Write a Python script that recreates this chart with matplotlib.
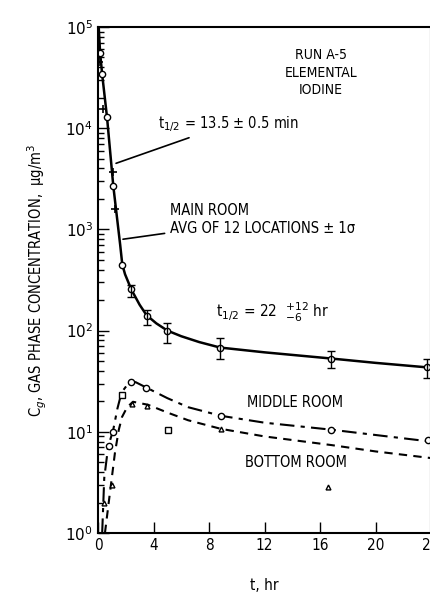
import matplotlib
matplotlib.use("Agg")
import matplotlib.pyplot as plt

# main room, averaged points (t in hr, C in ug/m3)
main_t = [0.15, 0.3, 0.65, 1.1, 1.75, 2.4, 3.5, 5.0, 8.8, 16.8, 23.7]
main_c = [56000, 34000, 12800, 2700, 450, 260, 140, 100, 68, 53, 44]
# "+" marks on the steep part
plus_t = [0.1, 0.35, 1.05, 1.2]
plus_c = [45000, 15500, 3700, 1600]
# error bars (+/- 1 sigma)
err_t = [2.4, 3.5, 5.0, 8.8, 16.8, 23.7]
err_c = [260, 140, 100, 68, 53, 44]
err_lo = [217, 114, 76, 52, 43, 34]
err_hi = [285, 160, 118, 85, 63, 53]
# drawn curve, main room
main_line_t = [0.05, 0.15, 0.3, 0.65, 1.1, 1.6, 1.75, 1.95, 2.4, 3.0, 3.5, 4.2, 5.0, 6.0, 7.3, 8.8, 12.0, 16.8, 20.0, 24.0]
main_line_c = [100000, 56000, 34000, 12800, 2700, 700, 450, 360, 255, 180, 142, 118, 100, 88, 77, 68, 61, 53, 48, 43]

# middle room
mid_t = [0.8, 1.1, 2.4, 3.45, 8.85, 16.8, 23.8]
mid_c = [7.2, 10, 31, 27, 14.4, 10.5, 8.3]
mid_sq_t = [1.7, 5.05]
mid_sq_c = [23, 10.5]
mid_line_t = [0.3, 0.45, 0.73, 1.1, 1.4, 1.7, 2.1, 2.7, 3.45, 5.0, 6.5, 8.85, 12.0, 16.8, 20.0, 24.0]
mid_line_c = [1.0, 3.5, 7.1, 10.5, 17, 24.5, 29, 31, 27.5, 21.5, 17.5, 14.4, 12.3, 10.5, 9.3, 8.0]

# bottom room
bot_t = [0.4, 1.0, 2.45, 3.55, 8.85, 16.6]
bot_c = [2.0, 3.0, 19, 18, 10.7, 2.85]
bot_line_t = [0.5, 0.86, 1.22, 1.5, 1.73, 2.1, 2.52, 3.6, 5.0, 6.5, 8.85, 12.0, 16.8, 20.0, 24.0]
bot_line_c = [1.0, 2.5, 6.2, 10.5, 14, 17.5, 19.8, 18.5, 15.5, 13, 10.7, 9.0, 7.4, 6.4, 5.5]

x_ticks = [0, 4, 8, 12, 16, 20, 24]

fnt = dict(family="DejaVu Sans", stretch="condensed")

fig = plt.figure(figsize=(4.31, 5.94), dpi=100)
ax = fig.add_axes([0.2274, 0.1027, 0.7726, 0.8518])

ax.plot(main_line_t, main_line_c, color="black", lw=1.8)
ax.plot(mid_line_t, mid_line_c, color="black", lw=1.5, dashes=[7, 3, 2, 3])
ax.plot(bot_line_t, bot_line_c, color="black", lw=1.5, dashes=[4, 3])

ax.plot(main_t, main_c, "o", mfc="white", mec="black", ms=4.5, mew=1)
ax.plot(plus_t, plus_c, "+", color="black", ms=6, mew=1.2)
ax.errorbar(err_t, err_c,
            yerr=[[c - lo for c, lo in zip(err_c, err_lo)],
                  [hi - c for c, hi in zip(err_c, err_hi)]],
            fmt="none", ecolor="black", elinewidth=1, capsize=3)
ax.plot(mid_t, mid_c, "o", mfc="white", mec="black", ms=4.5, mew=1)
ax.plot(mid_sq_t, mid_sq_c, "s", mfc="white", mec="black", ms=4.5, mew=1)
ax.plot(bot_t, bot_c, "^", mfc="white", mec="black", ms=3.5, mew=1)

ax.set_yscale("log")
ax.set_ylim(1, 1e5)
ax.set_xlim(0, 24)
ax.set_xticks(x_ticks)
ax.tick_params(which="both", direction="in", labelsize=11)
ax.tick_params(which="major", length=8, width=1)
ax.tick_params(which="minor", length=4, width=1)
ax.tick_params(axis="x", which="minor", bottom=False, top=False)
for lab in ax.get_xticklabels():
    lab.set_fontstretch("condensed")
for sp in ax.spines.values():
    sp.set_linewidth(1.5)

ax.set_xlabel("t, hr", fontsize=11, labelpad=18, **fnt)
ax.set_ylabel("C$_g$, GAS PHASE CONCENTRATION,  \u03bcg/m$^3$", fontsize=10.5, labelpad=12, **fnt)

ax.text(0.67, 0.91, "RUN A-5\nELEMENTAL\nIODINE", transform=ax.transAxes,
        ha="center", va="center", fontsize=10, linespacing=1.3, **fnt)
ax.annotate("t$_{1/2}$ = 13.5 \u00b1 0.5 min", xy=(1.3, 4500), xytext=(4.3, 11000),
            fontsize=10.5, va="center", ha="left",
            arrowprops=dict(arrowstyle="-", color="black", lw=1.2, shrinkA=2, shrinkB=0), **fnt)
ax.annotate("MAIN ROOM\nAVG OF 12 LOCATIONS \u00b1 1\u03c3", xy=(1.8, 800), xytext=(5.2, 1250),
            fontsize=10.5, va="center", ha="left", linespacing=1.25,
            arrowprops=dict(arrowstyle="-", color="black", lw=1.2, shrinkA=2, shrinkB=0), **fnt)
ax.text(8.5, 150, "t$_{1/2}$ = 22  $^{+12}_{-6}$ hr", fontsize=11, va="center", ha="left", **fnt)
ax.text(14.2, 19.5, "MIDDLE ROOM", fontsize=10.5, ha="center", va="center", **fnt)
ax.text(14.3, 5.0, "BOTTOM ROOM", fontsize=10.5, ha="center", va="center", **fnt)

fig.savefig("out.png", dpi=100)
